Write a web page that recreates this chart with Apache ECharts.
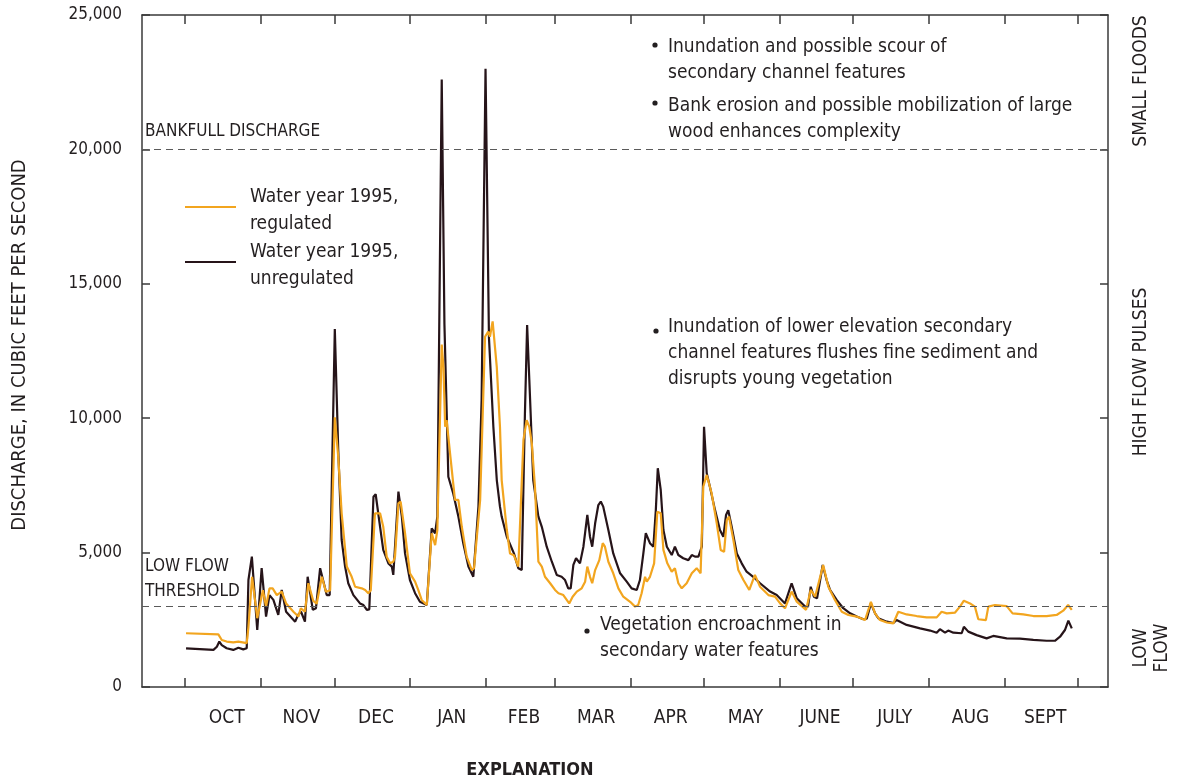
<!DOCTYPE html>
<html>
<head>
<meta charset="utf-8">
<script src="https://cdn.jsdelivr.net/npm/echarts@6/dist/echarts.min.js"></script>
<style>
html,body{margin:0;padding:0;background:#fff;}
#chart{width:1181px;height:781px;}
</style>
</head>
<body>
<div id="chart"></div>
<script>
// Day of water year (0 = Oct 1, 1994) and discharge (ft3/s)
const unregDays = [0.4,11.6,13.0,14.0,15.0,17.0,19.7,21.8,23.8,25.2,25.9,27.3,29.5,31.3,33.1,34.5,36.1,38.1,39.5,41.3,45.0,46.3,47.4,49.0,50.1,52.2,53.5,55.2,57.9,59.1,61.2,62.6,64.0,65.4,66.7,68.8,71.5,72.9,74.3,75.3,77.0,77.9,79.7,81.0,83.1,84.5,85.1,87.2,88.6,89.9,91.9,94.0,96.0,98.8,100.8,102.2,103.1,104.9,106.0,107.6,109.6,111.7,113.7,115.8,117.8,118.5,119.9,121.2,122.8,124.2,126.0,127.4,128.7,129.4,131.5,133.5,134.4,136.2,137.6,138.9,139.8,140.7,142.3,144.4,145.8,147.8,149.9,151.9,153.9,155.3,156.6,157.6,158.7,159.8,161.4,162.8,164.4,165.5,166.4,167.6,168.9,169.9,170.9,173.0,175.0,177.8,180.5,182.5,184.6,185.9,187.3,188.3,190.0,191.4,192.4,193.2,194.4,195.5,196.9,198.9,200.2,201.6,203.6,205.7,207.1,208.4,209.8,211.2,212.1,213.2,214.5,216.6,218.6,220.0,221.1,222.0,223.4,225.5,227.5,229.5,232.2,235.0,239.1,241.8,245.2,247.9,250.0,253.4,254.6,255.7,257.0,258.3,260.6,262.2,263.6,266.3,269.0,271.8,274.5,277.2,278.6,280.3,282.0,283.3,286.8,289.5,290.8,294.9,300.4,304.5,307.2,308.5,310.6,311.9,314.0,317.4,318.3,320.1,323.5,327.6,330.3,335.8,341.2,346.7,352.1,355.5,357.6,359.6,361.0,362.4];
const unregFlow = [1440,1380,1500,1690,1560,1440,1380,1460,1400,1440,3980,4850,2120,4420,2620,3420,3240,2680,3610,2800,2430,2700,2800,2430,4100,2870,2930,4420,3420,3420,13320,8820,5470,4480,3860,3420,3110,3050,2870,2890,7080,7170,5960,5100,4600,4480,4170,7270,6340,4970,3980,3490,3170,3050,5900,5720,6340,22600,13500,7820,7200,6340,5350,4480,4100,4050,6710,10680,23000,13000,9680,7700,6710,6340,5590,5160,4970,4420,4350,10180,13470,11420,7700,6340,5960,5220,4660,4170,4100,3980,3670,3670,4540,4790,4600,5220,6400,5590,5220,6090,6770,6900,6710,5840,4970,4230,3920,3670,3610,3980,4970,5720,5350,5220,6580,8140,7330,5840,5220,4910,5220,4910,4790,4720,4910,4850,4850,5220,9680,7950,7450,6580,5840,5590,6400,6580,5960,4970,4600,4290,4100,3860,3550,3420,3110,3860,3300,2990,2990,3730,3360,3300,4540,3980,3610,3240,2930,2740,2620,2520,2540,3110,2740,2560,2430,2380,2490,2310,2180,2100,2020,2150,2020,2100,2020,2000,2240,2060,1930,1810,1900,1810,1800,1750,1720,1720,1870,2120,2470,2180];

const regDays = [0.4,13.6,15.0,17.0,19.7,21.8,25.2,25.9,27.4,29.5,31.8,33.1,34.5,35.8,37.5,39.5,41.3,44.3,46.3,47.3,49.0,50.4,52.4,53.8,55.9,57.6,59.3,61.2,62.6,64.0,66.1,68.1,69.5,72.2,73.6,74.9,75.9,77.6,79.7,81.0,82.4,83.8,85.1,85.8,87.2,88.1,89.9,91.9,94.0,95.3,96.7,98.8,100.8,102.2,103.1,104.9,105.6,106.3,106.9,108.3,110.3,111.7,113.1,115.1,117.2,118.1,120.6,122.6,123.9,124.6,125.7,127.4,128.7,129.4,131.5,132.8,134.4,136.2,138.3,139.6,140.7,141.7,143.0,144.4,145.8,147.1,149.2,151.2,152.6,154.6,157.0,158.4,160.1,162.1,163.5,164.4,165.5,166.4,167.6,169.3,170.7,171.6,173.0,175.0,177.1,179.1,181.9,183.9,185.2,186.6,188.0,188.7,190.0,191.7,193.0,194.4,195.5,197.1,198.9,200.2,201.6,203.0,205.0,207.1,209.1,210.7,211.8,213.2,215.2,217.3,218.9,220.3,221.4,222.3,224.1,226.1,228.2,230.6,232.9,235.0,238.4,241.1,243.2,245.2,247.9,250.0,253.8,255.7,257.5,260.8,262.9,265.6,268.4,271.1,274.5,277.9,280.3,282.0,284.0,286.8,289.5,291.5,294.9,299.0,303.1,307.2,309.2,311.3,314.7,316.7,318.3,320.8,322.8,324.2,327.3,328.3,331.0,335.8,338.2,342.6,346.7,352.1,356.2,358.9,360.9,362.4];
const regFlow = [2000,1960,1750,1690,1660,1690,1630,2240,4100,2560,3600,2990,3670,3670,3420,3550,3110,2800,2620,2930,2800,3860,3200,3100,4100,3540,3600,10030,8570,6460,4480,4100,3730,3670,3610,3490,3600,6460,6460,5960,4850,4600,4660,4850,6830,6900,5720,4230,3920,3610,3240,3050,5720,5280,5840,12740,11900,9680,9930,8690,6960,6960,5960,4850,4350,4420,6960,13030,13220,13030,13600,11900,9680,7700,5840,4970,4900,4480,9190,9930,9680,9070,7450,4660,4480,4100,3860,3610,3490,3420,3110,3360,3550,3670,3920,4480,4100,3860,4350,4720,5350,5220,4660,4230,3670,3360,3170,2990,3050,3490,4100,3920,4100,4600,6520,6460,5100,4600,4290,4420,3860,3670,3860,4230,4420,4230,7450,7890,7210,6090,5100,5030,6210,6340,5470,4350,3980,3610,4170,3730,3420,3360,3110,2930,3550,3170,2870,3610,3360,4540,3730,3240,2800,2680,2620,2490,3170,2740,2490,2400,2370,2800,2700,2640,2590,2590,2800,2740,2770,2990,3210,3110,2990,2520,2490,2990,3050,3010,2740,2700,2640,2640,2680,2840,3050,2870];

const monthStarts = [0,31,61,92,123,151,182,212,243,273,304,335,365];
const monthNames = ['OCT','NOV','DEC','JAN','FEB','MAR','APR','MAY','JUNE','JULY','AUG','SEPT'];
const bankfull = 20000;
const lowFlow = 3000;

const labelShiftDays = 1.5;
const monthMids = monthNames.map((m,i)=>(monthStarts[i]+monthStarts[i+1])/2 + labelShiftDays);
const F = "'Liberation Sans Narrow','DejaVu Sans Condensed','Roboto Condensed',Arial,sans-serif";
const TXT = '#231f20';
const AX = '#3a3a3a';
const ORANGE = '#f2a51f';
const BLACK = '#261419';

const chart = echarts.init(document.getElementById('chart'), null, {renderer:'canvas'});

function t(text, x, y, size, opts) {
  return Object.assign({type:'text', x:x, y:y, style:Object.assign({text:text, font: size+'px '+F, fill:TXT, textVerticalAlign:'middle', textAlign:'left'}, (opts&&opts.style)||{})}, (opts&&opts.el)||{});
}
function dot(x,y){ return {type:'circle', shape:{cx:x, cy:y, r:2.6}, style:{fill:TXT}}; }

const xCommon = {
  type:'value', min:-17.6, max:377.2,
  axisLine:{show:true, onZero:false, lineStyle:{color:AX, width:1.5}},
  axisTick:{show:true, inside:true, length:9, customValues:monthStarts, lineStyle:{color:AX, width:1.5}},
  splitLine:{show:false}
};
const yCommon = {
  type:'value', min:0, max:25000, interval:5000,
  axisLine:{show:true, onZero:false, lineStyle:{color:AX, width:1.5}},
  axisTick:{show:true, inside:true, length:8, lineStyle:{color:AX, width:1.5}},
  splitLine:{show:false}
};

const option = {
  animation:false,
  backgroundColor:'#fff',
  grid:{left:142, right:73, top:15, bottom:94, containLabel:false},
  xAxis:[
    Object.assign({}, xCommon, {position:'bottom',
      axisLabel:{show:true, customValues:monthMids, margin:22, color:TXT, fontFamily:F, fontSize:19,
        formatter:function(v){ const i = monthMids.indexOf(v); return i>=0 ? monthNames[i] : ''; }}}),
    Object.assign({}, xCommon, {position:'top', axisLabel:{show:false}})
  ],
  yAxis:[
    Object.assign({}, yCommon, {position:'left',
      axisLabel:{show:true, margin:20, color:TXT, fontFamily:F, fontSize:17,
        formatter:function(v){ return v.toLocaleString('en-US'); }}}),
    Object.assign({}, yCommon, {position:'right', axisLabel:{show:false}})
  ],
  series:[
    {name:'Water year 1995, unregulated', type:'line', xAxisIndex:0, yAxisIndex:0,
      data: unregDays.map((d,i)=>[d, unregFlow[i]]),
      showSymbol:false, symbol:'none', smooth:false,
      lineStyle:{color:BLACK, width:2.2}, z:3,
      markLine:{silent:true, symbol:['none','none'], label:{show:false},
        lineStyle:{color:'#5a5a5a', width:1.2, type:[7,5]},
        data:[{yAxis:bankfull},{yAxis:lowFlow}]}},
    {name:'Water year 1995, regulated', type:'line', xAxisIndex:0, yAxisIndex:0,
      data: regDays.map((d,i)=>[d, regFlow[i]]),
      showSymbol:false, symbol:'none', smooth:false,
      lineStyle:{color:ORANGE, width:2.2}, z:4}
  ],
  graphic:[
    t('DISCHARGE, IN CUBIC FEET PER SECOND', 20, 345, 20, {el:{rotation:Math.PI/2}, style:{textAlign:'center'}}),
    t('SMALL FLOODS', 1141, 81, 19, {el:{rotation:Math.PI/2}, style:{textAlign:'center'}}),
    t('HIGH FLOW PULSES', 1141, 372, 19, {el:{rotation:Math.PI/2}, style:{textAlign:'center'}}),
    t('LOW', 1141, 648, 19, {el:{rotation:Math.PI/2}, style:{textAlign:'center'}}),
    t('FLOW', 1162, 648, 19, {el:{rotation:Math.PI/2}, style:{textAlign:'center'}}),
    t('BANKFULL DISCHARGE', 145, 132, 17),
    t('LOW FLOW', 145, 567, 17),
    t('THRESHOLD', 145, 592, 17),
    {type:'line', shape:{x1:185, y1:207, x2:236, y2:207}, style:{stroke:ORANGE, lineWidth:2}},
    {type:'line', shape:{x1:185, y1:262, x2:236, y2:262}, style:{stroke:BLACK, lineWidth:2}},
    t('Water year 1995,', 250, 197, 19),
    t('regulated', 250, 224, 19),
    t('Water year 1995,', 250, 252, 19),
    t('unregulated', 250, 279, 19),
    dot(655, 45),
    t('Inundation and possible scour of', 668, 47, 19),
    t('secondary channel features', 668, 73, 19),
    dot(655, 103),
    t('Bank erosion and possible mobilization of large', 668, 106, 19),
    t('wood enhances complexity', 668, 132, 19),
    dot(656, 331),
    t('Inundation of lower elevation secondary', 668, 327, 19),
    t('channel features flushes fine sediment and', 668, 353, 19),
    t('disrupts young vegetation', 668, 379, 19),
    dot(587, 631),
    t('Vegetation encroachment in', 600, 625, 19),
    t('secondary water features', 600, 651, 19),
    t('EXPLANATION', 530, 770, 18, {style:{textAlign:'center', font:'bold 18px '+F}})
  ]
};
chart.setOption(option);
</script>
</body>
</html>
